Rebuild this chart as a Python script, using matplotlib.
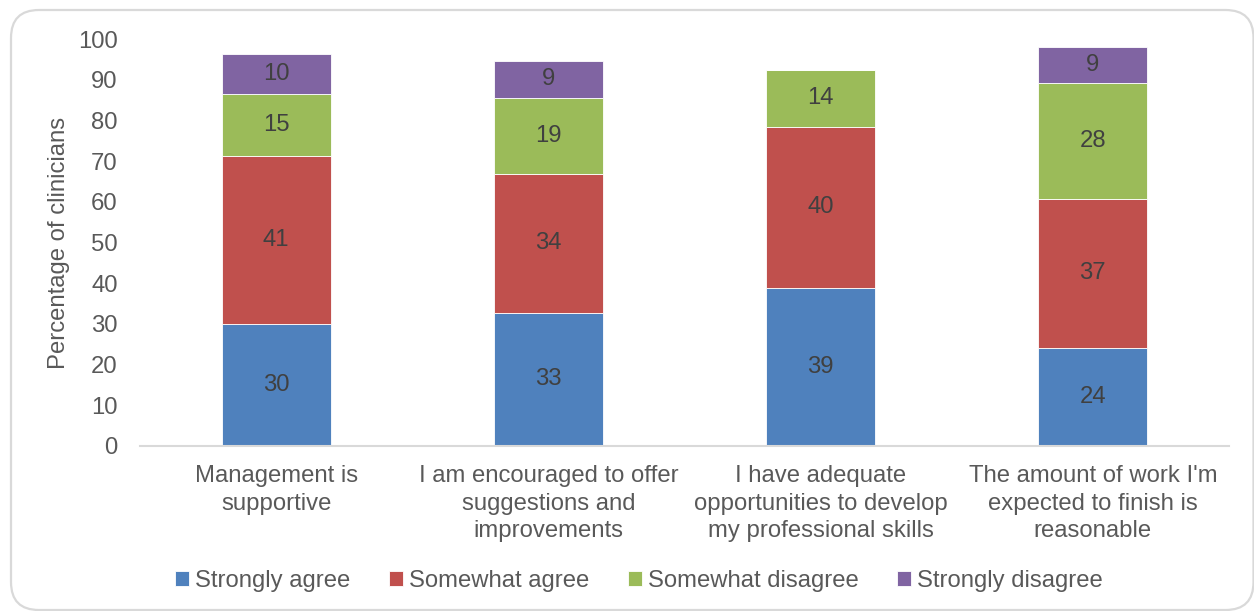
import numpy as np
import matplotlib.pyplot as plt
from matplotlib.patches import FancyBboxPatch

plt.rcParams['font.family'] = ['Liberation Sans', 'DejaVu Sans']

categories = ["Management is\nsupportive",
              "I am encouraged to offer\nsuggestions and\nimprovements",
              "I have adequate\nopportunities to develop\nmy professional skills",
              "The amount of work I'm\nexpected to finish is\nreasonable"]
series_names = ["Strongly agree", "Somewhat agree", "Somewhat disagree", "Strongly disagree"]
strongly_agree = [29.9, 32.8, 38.8, 24.2]
somewhat_agree = [41.3, 34.0, 39.7, 36.6]
somewhat_disagree = [15.4, 18.8, 13.9, 28.4]
strongly_disagree = [9.8, 9.0, 0, 8.9]
colors = ["#4f81bd", "#c0504d", "#9bbb59", "#8064a2"]

text_col = "#595959"
fs = 17.2
W, H = 1254, 611
fig = plt.figure(figsize=(W / 100, H / 100), dpi=100)

# rounded frame around the chart, drawn in pixel units
bg = fig.add_axes([0, 0, 1, 1], zorder=-1)
bg.set_xlim(0, W)
bg.set_ylim(H, 0)
bg.axis("off")
bg.add_patch(FancyBboxPatch((11, 10), 1242.5, 600, boxstyle="round,pad=0,rounding_size=28",
                            fc="none", ec="#d9d9d9", lw=1.6))

ax = fig.add_axes([140 / W, 165 / H, 1089 / W, 407 / H])
ax.patch.set_alpha(0)

x = np.arange(len(categories))
bottom = np.zeros(len(categories))
for name, vals, c in zip(series_names,
                         [strongly_agree, somewhat_agree, somewhat_disagree, strongly_disagree],
                         colors):
    vals = np.array(vals)
    bars = ax.bar(x, vals, 0.4, bottom=bottom, color=c, label=name,
                  edgecolor="white", linewidth=0.6)
    labels = ["%.0f" % v if v > 0 else "" for v in vals]
    ax.bar_label(bars, labels=labels, label_type="center", color="#404040", fontsize=fs)
    bottom += vals

ax.set_xlim(-0.5, 3.5)
ax.set_ylim(0, 100)
ax.set_yticks(range(0, 101, 10))
ax.set_xticks(x)
ax.set_xticklabels(categories, fontsize=fs, color=text_col, linespacing=1.3)
ax.tick_params(axis="y", length=0, labelsize=fs, labelcolor=text_col, pad=16)
ax.tick_params(axis="x", length=0, pad=14)
for s in ["top", "right", "left"]:
    ax.spines[s].set_visible(False)
ax.spines["bottom"].set_color("#d9d9d9")
ax.spines["bottom"].set_linewidth(1.5)
ax.set_ylabel("Percentage of clinicians", fontsize=fs, color=text_col)
ax.yaxis.set_label_coords(-0.064, 0.5)

leg = fig.legend(loc="center", bbox_to_anchor=(639 / W, 1 - 581 / H), ncol=4,
                 frameon=False, fontsize=fs, handlelength=0.6, handleheight=0.6,
                 handletextpad=0.25, columnspacing=1.6)
for t in leg.get_texts():
    t.set_color(text_col)

fig.savefig("out.png", dpi=100)
